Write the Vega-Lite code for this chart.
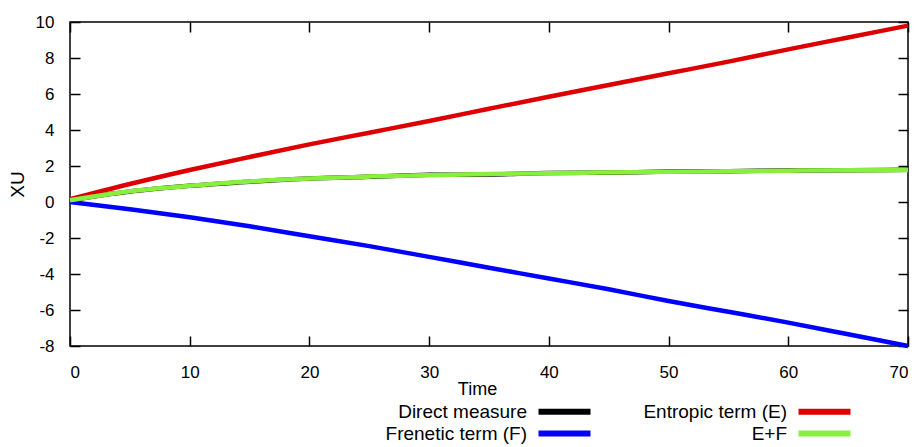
{
  "$schema": "https://vega.github.io/schema/vega-lite/v6.json",
  "width": 838,
  "height": 324,
  "autosize": "none",
  "padding": {"left": 70, "top": 22, "right": 13, "bottom": 101},
  "config": {
    "font": "Liberation Sans",
    "view": {"stroke": "black", "strokeWidth": 1.5},
    "axis": {
      "domain": false,
      "grid": false,
      "tickColor": "black",
      "tickWidth": 1.5,
      "tickSize": -10,
      "labelFontSize": 17,
      "labelColor": "black",
      "labelExpr": "replace(datum.label, '\u2212', '-')",
      "titleFontSize": 19,
      "titleFontWeight": "normal",
      "titleColor": "black"
    }
  },
  "data": {
    "values": [
      {"t": 0, "v": 0.1, "s": "Direct measure"},
      {"t": 5, "v": 0.58, "s": "Direct measure"},
      {"t": 10, "v": 0.9, "s": "Direct measure"},
      {"t": 15, "v": 1.13, "s": "Direct measure"},
      {"t": 20, "v": 1.31, "s": "Direct measure"},
      {"t": 25, "v": 1.4, "s": "Direct measure"},
      {"t": 30, "v": 1.51, "s": "Direct measure"},
      {"t": 35, "v": 1.53, "s": "Direct measure"},
      {"t": 40, "v": 1.61, "s": "Direct measure"},
      {"t": 45, "v": 1.63, "s": "Direct measure"},
      {"t": 50, "v": 1.69, "s": "Direct measure"},
      {"t": 55, "v": 1.71, "s": "Direct measure"},
      {"t": 60, "v": 1.75, "s": "Direct measure"},
      {"t": 65, "v": 1.76, "s": "Direct measure"},
      {"t": 70, "v": 1.79, "s": "Direct measure"},
      {"t": 0, "v": 0.15, "s": "Entropic term (E)"},
      {"t": 5, "v": 1.0, "s": "Entropic term (E)"},
      {"t": 10, "v": 1.78, "s": "Entropic term (E)"},
      {"t": 15, "v": 2.5, "s": "Entropic term (E)"},
      {"t": 20, "v": 3.2, "s": "Entropic term (E)"},
      {"t": 25, "v": 3.85, "s": "Entropic term (E)"},
      {"t": 30, "v": 4.5, "s": "Entropic term (E)"},
      {"t": 35, "v": 5.18, "s": "Entropic term (E)"},
      {"t": 40, "v": 5.85, "s": "Entropic term (E)"},
      {"t": 45, "v": 6.5, "s": "Entropic term (E)"},
      {"t": 50, "v": 7.15, "s": "Entropic term (E)"},
      {"t": 55, "v": 7.8, "s": "Entropic term (E)"},
      {"t": 60, "v": 8.48, "s": "Entropic term (E)"},
      {"t": 65, "v": 9.14, "s": "Entropic term (E)"},
      {"t": 70, "v": 9.8, "s": "Entropic term (E)"},
      {"t": 0, "v": 0, "s": "Frenetic term (F)"},
      {"t": 5, "v": -0.4, "s": "Frenetic term (F)"},
      {"t": 10, "v": -0.85, "s": "Frenetic term (F)"},
      {"t": 15, "v": -1.35, "s": "Frenetic term (F)"},
      {"t": 20, "v": -1.9, "s": "Frenetic term (F)"},
      {"t": 25, "v": -2.45, "s": "Frenetic term (F)"},
      {"t": 30, "v": -3.05, "s": "Frenetic term (F)"},
      {"t": 35, "v": -3.65, "s": "Frenetic term (F)"},
      {"t": 40, "v": -4.25, "s": "Frenetic term (F)"},
      {"t": 45, "v": -4.85, "s": "Frenetic term (F)"},
      {"t": 50, "v": -5.5, "s": "Frenetic term (F)"},
      {"t": 55, "v": -6.1, "s": "Frenetic term (F)"},
      {"t": 60, "v": -6.7, "s": "Frenetic term (F)"},
      {"t": 65, "v": -7.35, "s": "Frenetic term (F)"},
      {"t": 70, "v": -8.0, "s": "Frenetic term (F)"},
      {"t": 0, "v": 0.1, "s": "E+F"},
      {"t": 5, "v": 0.6, "s": "E+F"},
      {"t": 10, "v": 0.9, "s": "E+F"},
      {"t": 15, "v": 1.14, "s": "E+F"},
      {"t": 20, "v": 1.3, "s": "E+F"},
      {"t": 25, "v": 1.41, "s": "E+F"},
      {"t": 30, "v": 1.49, "s": "E+F"},
      {"t": 35, "v": 1.55, "s": "E+F"},
      {"t": 40, "v": 1.6, "s": "E+F"},
      {"t": 45, "v": 1.64, "s": "E+F"},
      {"t": 50, "v": 1.68, "s": "E+F"},
      {"t": 55, "v": 1.71, "s": "E+F"},
      {"t": 60, "v": 1.74, "s": "E+F"},
      {"t": 65, "v": 1.76, "s": "E+F"},
      {"t": 70, "v": 1.78, "s": "E+F"}
    ]
  },
  "layer": [
    {
      "mark": {"type": "line", "strokeWidth": 4.5, "interpolate": "monotone"},
      "encoding": {
        "x": {
          "field": "t", "type": "quantitative",
          "scale": {"domain": [0, 70], "nice": false},
          "axis": {"orient": "bottom", "title": "Time", "titleFontSize": 18, "values": [0, 10, 20, 30, 40, 50, 60, 70], "labelPadding": 28, "titlePadding": 0, "titleX": 407}
        },
        "y": {
          "field": "v", "type": "quantitative",
          "scale": {"domain": [-8, 10], "nice": false},
          "axis": {"orient": "left", "title": "XU", "values": [-8, -6, -4, -2, 0, 2, 4, 6, 8, 10], "labelPadding": 26, "titlePadding": 8}
        },
        "color": {
          "field": "s", "type": "nominal",
          "scale": {
            "domain": ["Direct measure", "Frenetic term (F)", "Entropic term (E)", "E+F"],
            "range": ["#000000", "#0000ff", "#dd0000", "#88f03c"]
          },
          "legend": {
            "orient": "none",
            "legendX": 485,
            "legendY": 380,
            "columns": 2,
            "title": null,
            "symbolType": "M-4,0H4",
            "symbolSize": 169,
            "symbolStrokeWidth": 6,
            "labelFontSize": 19,
            "labelColor": "black",
            "labelAlign": "right",
            "labelOffset": -47,
            "labelLimit": 400,
            "columnPadding": 40,
            "rowPadding": -4
          }
        }
      }
    },
    {
      "mark": {"type": "line", "opacity": 0},
      "encoding": {
        "x": {
          "field": "t", "type": "quantitative",
          "axis": {"orient": "top", "title": null, "labels": false, "values": [0, 10, 20, 30, 40, 50, 60, 70]}
        },
        "y": {
          "field": "v", "type": "quantitative",
          "axis": {"orient": "right", "title": null, "labels": false, "values": [-8, -6, -4, -2, 0, 2, 4, 6, 8, 10]}
        }
      }
    }
  ]
}
